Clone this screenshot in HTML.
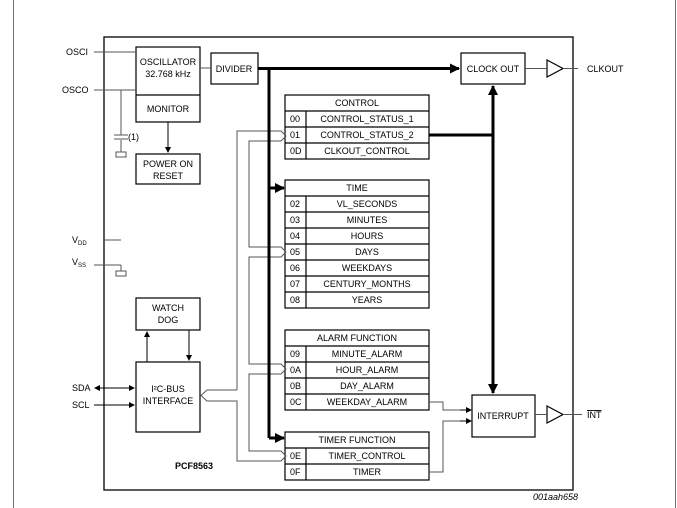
<!DOCTYPE html>
<html><head><style>body{margin:0;background:#fff}svg{display:block}text{font-family:"Liberation Sans",Arial,sans-serif;font-size:9px;fill:#000}</style></head><body>
<svg width="677" height="508" viewBox="0 0 677 508" xmlns="http://www.w3.org/2000/svg">
<defs>
<marker id="a" markerWidth="6" markerHeight="6" refX="5" refY="3" orient="auto" markerUnits="userSpaceOnUse"><path d="M0,0 L6,3 L0,6 z" fill="#000"/></marker>
<marker id="b" markerWidth="10" markerHeight="10" refX="9" refY="5" orient="auto" markerUnits="userSpaceOnUse"><path d="M0,0 L10,5 L0,10 z" fill="#000"/></marker>
</defs>
<g fill="none" stroke="#2a8a9a" stroke-width="1"><line x1="13.5" y1="0" x2="13.5" y2="508"/><line x1="675.5" y1="0" x2="675.5" y2="508"/></g>
<rect x="104" y="37" width="469" height="453" fill="none" stroke="#000" stroke-width="1.3"/>
<g fill="none" stroke="#000" stroke-width="1.2">
<rect x="136" y="47" width="64" height="75"/><line x1="136" y1="95" x2="200" y2="95"/>
<rect x="136" y="154" width="64" height="30"/>
<rect x="211" y="53" width="47" height="31"/>
<rect x="461" y="53" width="64" height="31"/>
<rect x="136" y="298" width="64" height="32"/>
<rect x="136" y="362" width="64" height="70"/>
<rect x="472" y="395" width="63" height="42"/>
<path d="M547,60 L563,68.5 L547,77 z"/><path d="M547,406 L563,414.5 L547,423 z"/>
</g>
<g stroke="#000" stroke-width="1.2" fill="#fff">
<rect x="285" y="95" width="144" height="64"/><line x1="285" y1="111" x2="429" y2="111"/><line x1="285" y1="127" x2="429" y2="127"/><line x1="285" y1="143" x2="429" y2="143"/><line x1="306" y1="111" x2="306" y2="159"/>
<rect x="285" y="180" width="144" height="128"/>
<line x1="285" y1="196" x2="429" y2="196"/><line x1="285" y1="212" x2="429" y2="212"/><line x1="285" y1="228" x2="429" y2="228"/><line x1="285" y1="244" x2="429" y2="244"/><line x1="285" y1="260" x2="429" y2="260"/><line x1="285" y1="276" x2="429" y2="276"/><line x1="285" y1="292" x2="429" y2="292"/><line x1="306" y1="196" x2="306" y2="308"/>
<rect x="285" y="330" width="144" height="80"/>
<line x1="285" y1="346" x2="429" y2="346"/><line x1="285" y1="362" x2="429" y2="362"/><line x1="285" y1="378" x2="429" y2="378"/><line x1="285" y1="394" x2="429" y2="394"/><line x1="306" y1="346" x2="306" y2="410"/>
<rect x="285" y="432" width="144" height="48"/><line x1="285" y1="448" x2="429" y2="448"/><line x1="285" y1="464" x2="429" y2="464"/><line x1="306" y1="448" x2="306" y2="480"/>
</g>
<g fill="none" stroke="#555" stroke-width="1">
<line x1="94" y1="52" x2="136" y2="52"/><line x1="94" y1="90" x2="136" y2="90"/>
<line x1="200" y1="68" x2="211" y2="68"/>
<line x1="121" y1="90" x2="121" y2="135"/><line x1="121" y1="140" x2="121" y2="152"/>
<line x1="114" y1="135" x2="128" y2="135"/><line x1="114" y1="139" x2="128" y2="139"/>
<rect x="116" y="152" width="10" height="5"/>
<line x1="104" y1="240" x2="121" y2="240"/>
<line x1="94" y1="265" x2="121" y2="265"/><line x1="121" y1="265" x2="121" y2="271"/><rect x="116" y="271" width="10" height="5"/>
<path d="M237,390 V131 H281 L286,136 L281,141 H249 V247 H281 L286,252 L281,257 H249 V364 H281 L286,369 L281,374 H249 V451 H281 L286,456 L281,461 H237 V401 H207 L201,395.5 L207,390 H237"/>
<path d="M429,402 H443 V410 H466"/><path d="M429,472 H443 V421 H466"/>
<line x1="563" y1="68.5" x2="578" y2="68.5"/><line x1="535" y1="414.5" x2="547" y2="414.5"/><line x1="563" y1="414.5" x2="582" y2="414.5"/>
<line x1="525" y1="68.5" x2="547" y2="68.5"/>
</g>
<g stroke="#000" stroke-width="1" fill="none">
<line x1="168" y1="122" x2="168" y2="152" marker-end="url(#a)"/>
<line x1="147" y1="362" x2="147" y2="332" marker-end="url(#a)"/>
<line x1="189" y1="330" x2="189" y2="360" marker-end="url(#a)"/>
<line x1="100" y1="388" x2="134" y2="388" marker-end="url(#a)"/>
<line x1="130" y1="388" x2="95" y2="388" marker-end="url(#a)"/>
<line x1="94" y1="405" x2="134" y2="405" marker-end="url(#a)"/>
<line x1="460" y1="410" x2="471" y2="410" marker-end="url(#a)"/>
<line x1="460" y1="421" x2="471" y2="421" marker-end="url(#a)"/>
</g>
<g stroke="#000" stroke-width="3" fill="none">
<line x1="258" y1="68.5" x2="459" y2="68.5" marker-end="url(#b)"/>
<line x1="269" y1="68" x2="269" y2="438"/>
<line x1="269" y1="188" x2="284" y2="188" marker-end="url(#b)"/>
<line x1="269" y1="438" x2="284" y2="438" marker-end="url(#b)"/>
<line x1="429" y1="135" x2="493" y2="135"/>
<line x1="493" y1="135" x2="493" y2="86" marker-end="url(#b)"/>
<line x1="493" y1="135" x2="493" y2="393" marker-end="url(#b)"/>
</g>
<g text-anchor="middle">
<text x="168" y="65">OSCILLATOR</text><text x="168" y="77">32.768 kHz</text>
<text x="168" y="112">MONITOR</text>
<text x="168" y="167">POWER ON</text><text x="168" y="179">RESET</text>
<text x="234" y="72">DIVIDER</text>
<text x="493" y="72">CLOCK OUT</text>
<text x="168" y="311">WATCH</text><text x="168" y="323">DOG</text>
<text x="168" y="392">I²C-BUS</text><text x="168" y="404">INTERFACE</text>
<text x="503" y="419">INTERRUPT</text>
<text x="357" y="106">CONTROL</text><text x="367" y="122">CONTROL_STATUS_1</text><text x="367" y="138">CONTROL_STATUS_2</text><text x="367" y="154">CLKOUT_CONTROL</text>
<text x="357" y="191">TIME</text><text x="367" y="207">VL_SECONDS</text><text x="367" y="223">MINUTES</text><text x="367" y="239">HOURS</text><text x="367" y="255">DAYS</text><text x="367" y="271">WEEKDAYS</text><text x="367" y="287">CENTURY_MONTHS</text><text x="367" y="303">YEARS</text>
<text x="357" y="341">ALARM FUNCTION</text><text x="367" y="357">MINUTE_ALARM</text><text x="367" y="373">HOUR_ALARM</text><text x="367" y="389">DAY_ALARM</text><text x="367" y="405">WEEKDAY_ALARM</text>
<text x="357" y="443">TIMER FUNCTION</text><text x="367" y="459">TIMER_CONTROL</text><text x="367" y="475">TIMER</text>
</g>
<g>
<text x="290" y="122">00</text><text x="290" y="138">01</text><text x="290" y="154">0D</text>
<text x="290" y="207">02</text><text x="290" y="223">03</text><text x="290" y="239">04</text><text x="290" y="255">05</text><text x="290" y="271">06</text><text x="290" y="287">07</text><text x="290" y="303">08</text>
<text x="290" y="357">09</text><text x="290" y="373">0A</text><text x="290" y="389">0B</text><text x="290" y="405">0C</text>
<text x="290" y="459">0E</text><text x="290" y="475">0F</text>
<text x="66" y="55">OSCI</text><text x="62" y="93">OSCO</text>
<text x="72" y="243">V<tspan font-size="6" dy="2">DD</tspan></text><text x="72" y="265">V<tspan font-size="6" dy="2">SS</tspan></text>
<text x="72" y="391">SDA</text><text x="72" y="408">SCL</text>
<text x="587" y="72">CLKOUT</text>
<text x="587" y="418" text-decoration="overline">INT</text>
<text x="128" y="140" font-size="7">(1)</text>
<text x="175" y="469" font-weight="bold">PCF8563</text>
<text x="533" y="500" font-size="7" font-style="italic">001aah658</text>
</g>
</svg>
</body></html>
